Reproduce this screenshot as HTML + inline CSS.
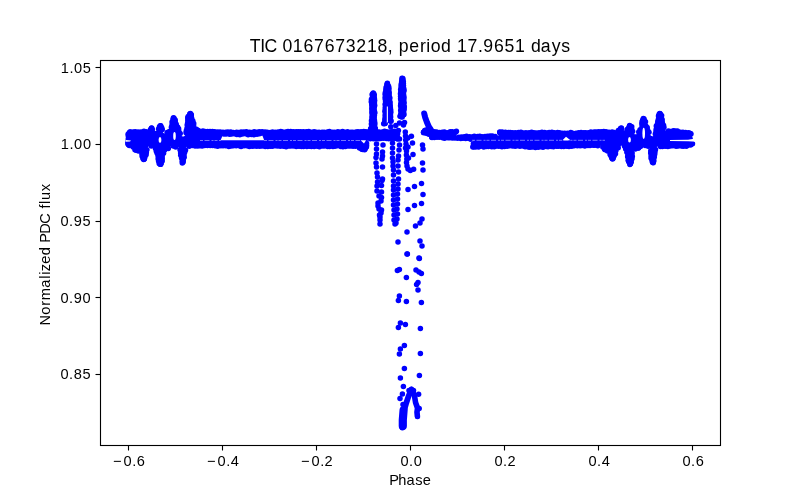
<!DOCTYPE html>
<html><head><meta charset="utf-8"><style>
html,body{margin:0;padding:0;background:#fff;}
svg{display:block;will-change:transform;}
text{font-family:"Liberation Sans",sans-serif;fill:#000;}
</style></head><body>
<svg width="800" height="500" viewBox="0 0 800 500">
<rect width="800" height="500" fill="#fff"/>
<g>
<path fill="#0000ff" fill-rule="nonzero" d="M127.95,134.40 L127.95,143.92 L128.69,145.40 L131.59,146.12 L131.81,146.19 L132.02,146.27 L132.22,146.38 L132.41,146.50 L132.59,146.64 L132.75,146.79 L132.90,146.96 L133.04,147.14 L134.77,149.73 L137.23,151.38 L140.10,152.81 L140.30,152.92 L140.49,153.06 L140.67,153.21 L140.83,153.38 L140.98,153.56 L141.11,153.76 L141.22,153.96 L141.31,154.18 L142.80,158.37 L143.71,159.68 L144.00,159.77 L144.48,159.50 L145.51,157.59 L146.61,153.46 L147.59,148.06 L147.64,147.83 L147.72,147.60 L147.82,147.39 L147.94,147.18 L148.07,146.99 L148.23,146.81 L148.40,146.64 L148.59,146.50 L148.79,146.37 L149.00,146.26 L149.23,146.18 L149.46,146.11 L149.69,146.07 L149.93,146.05 L150.17,146.06 L150.40,146.08 L153.40,146.58 L153.63,146.63 L153.86,146.71 L154.08,146.80 L154.28,146.91 L154.48,147.05 L154.66,147.20 L154.83,147.37 L154.98,147.55 L155.11,147.75 L155.22,147.96 L155.31,148.18 L155.38,148.41 L157.38,156.40 L158.75,161.80 L159.67,164.48 L160.19,164.87 L160.31,164.86 L161.12,163.96 L162.20,160.45 L163.08,154.64 L163.13,154.38 L163.21,154.14 L164.71,150.14 L164.80,149.91 L164.93,149.70 L165.07,149.49 L165.23,149.31 L165.41,149.14 L165.60,148.99 L165.81,148.86 L166.04,148.75 L166.27,148.66 L166.51,148.60 L166.75,148.56 L167.00,148.55 L168.49,148.55 L168.81,147.90 L168.93,147.69 L169.07,147.50 L169.22,147.31 L169.40,147.15 L169.59,147.00 L169.79,146.87 L170.01,146.76 L170.23,146.67 L170.47,146.61 L170.71,146.57 L170.95,146.55 L171.19,146.56 L177.69,147.06 L177.92,147.09 L178.15,147.14 L178.38,147.21 L178.59,147.31 L178.80,147.42 L178.99,147.56 L179.17,147.71 L179.34,147.88 L179.48,148.06 L179.61,148.26 L179.72,148.47 L179.81,148.69 L179.88,148.91 L179.92,149.14 L181.01,156.58 L181.95,161.27 L182.57,162.70 L183.51,161.07 L184.39,157.54 L185.57,148.68 L185.61,148.45 L185.68,148.22 L185.76,148.00 L185.87,147.79 L185.99,147.60 L186.14,147.41 L186.30,147.24 L186.47,147.08 L186.66,146.95 L186.86,146.83 L187.08,146.73 L187.30,146.65 L187.52,146.60 L187.76,146.56 L191.76,146.16 L192.00,146.15 L200.00,146.15 L200.01,146.15 L240.01,146.35 L300.00,146.55 L357.00,146.55 L357.22,146.56 L357.45,146.59 L357.67,146.64 L357.88,146.71 L358.09,146.80 L358.28,146.91 L358.47,147.04 L361.82,149.55 L364.89,149.55 L366.68,147.53 L367.57,141.16 L367.62,140.92 L367.69,140.68 L367.79,140.45 L367.90,140.23 L368.04,140.03 L368.20,139.84 L368.38,139.66 L368.57,139.51 L368.78,139.38 L369.00,139.26 L369.23,139.17 L369.47,139.11 L369.71,139.07 L369.96,139.05 L397.55,138.59 L397.55,131.27 L350.02,131.65 L350.00,131.65 L270.01,131.65 L240.02,131.85 L240.00,131.85 L216.00,131.85 L215.76,131.84 L204.12,130.67 L200.48,131.40 L200.24,131.44 L200.00,131.45 L199.76,131.44 L199.52,131.40 L199.29,131.34 L199.06,131.26 L198.85,131.16 L198.64,131.04 L198.45,130.89 L198.27,130.73 L195.27,127.73 L195.10,127.55 L194.95,127.35 L194.83,127.13 L194.72,126.91 L194.64,126.67 L192.64,119.67 L192.62,119.59 L191.31,114.33 L190.38,113.51 L187.86,116.92 L186.94,125.27 L186.92,125.40 L185.42,134.40 L185.37,134.64 L185.29,134.87 L185.20,135.09 L185.08,135.30 L184.94,135.50 L184.78,135.68 L184.61,135.85 L184.42,136.00 L184.22,136.13 L184.00,136.23 L183.78,136.32 L183.55,136.39 L183.31,136.43 L183.07,136.45 L182.83,136.44 L182.59,136.42 L182.36,136.36 L182.13,136.29 L181.91,136.19 L181.70,136.07 L181.50,135.94 L181.32,135.78 L181.15,135.61 L181.00,135.42 L180.87,135.21 L180.76,135.00 L180.68,134.77 L178.72,128.90 L175.78,122.53 L175.69,122.32 L175.63,122.12 L175.58,121.90 L175.21,119.66 L173.87,118.28 L172.74,119.29 L171.90,123.48 L171.88,123.59 L170.38,129.59 L170.31,129.81 L170.23,130.02 L170.12,130.22 L170.00,130.41 L169.86,130.59 L169.71,130.75 L169.54,130.90 L169.36,131.04 L166.36,133.04 L166.15,133.16 L165.92,133.27 L165.69,133.35 L165.45,133.41 L165.21,133.44 L164.96,133.45 L164.71,133.43 L164.47,133.39 L164.23,133.33 L164.00,133.24 L163.78,133.13 L163.58,132.99 L163.38,132.84 L163.21,132.67 L163.05,132.48 L162.91,132.27 L162.79,132.06 L162.69,131.83 L162.62,131.59 L161.31,126.34 L160.34,125.50 L159.53,126.07 L158.29,129.36 L158.20,129.58 L158.08,129.80 L157.94,130.00 L157.78,130.19 L157.60,130.35 L157.41,130.51 L157.20,130.64 L156.98,130.74 L156.75,130.83 L156.52,130.90 L156.27,130.93 L156.03,130.95 L155.78,130.94 L155.54,130.91 L155.30,130.85 L155.07,130.77 L154.85,130.66 L154.64,130.54 L153.14,129.54 L152.93,129.38 L151.27,128.00 L150.52,128.45 L148.73,130.23 L148.57,130.38 L148.39,130.52 L148.20,130.64 L147.99,130.74 L147.78,130.82 L147.57,130.88 L147.35,130.93 L140.35,131.93 L140.05,131.95 L139.76,131.94 L134.88,131.45 L130.65,131.45 L128.53,132.66 L127.95,134.40Z "/>
<circle cx="128.09" cy="134.13" r="2.75" fill="#0000ff"/>
<circle cx="128.39" cy="136.22" r="2.75" fill="#0000ff"/>
<circle cx="128.28" cy="139.08" r="2.75" fill="#0000ff"/>
<circle cx="127.85" cy="141.81" r="2.75" fill="#0000ff"/>
<circle cx="127.83" cy="143.79" r="2.75" fill="#0000ff"/>
<circle cx="128.51" cy="144.77" r="2.75" fill="#0000ff"/>
<circle cx="129.29" cy="145.55" r="2.75" fill="#0000ff"/>
<circle cx="133.07" cy="146.91" r="2.75" fill="#0000ff"/>
<circle cx="134.97" cy="149.73" r="2.75" fill="#0000ff"/>
<circle cx="136.11" cy="150.13" r="2.75" fill="#0000ff"/>
<circle cx="138.39" cy="151.00" r="2.75" fill="#0000ff"/>
<circle cx="141.89" cy="153.82" r="2.75" fill="#0000ff"/>
<circle cx="142.16" cy="156.24" r="2.75" fill="#0000ff"/>
<circle cx="142.96" cy="158.61" r="2.75" fill="#0000ff"/>
<circle cx="143.61" cy="159.50" r="2.75" fill="#0000ff"/>
<circle cx="144.09" cy="159.33" r="2.75" fill="#0000ff"/>
<circle cx="144.40" cy="158.71" r="2.75" fill="#0000ff"/>
<circle cx="144.86" cy="157.10" r="2.75" fill="#0000ff"/>
<circle cx="146.09" cy="154.79" r="2.75" fill="#0000ff"/>
<circle cx="146.30" cy="152.62" r="2.75" fill="#0000ff"/>
<circle cx="146.89" cy="149.80" r="2.75" fill="#0000ff"/>
<circle cx="151.30" cy="146.06" r="2.75" fill="#0000ff"/>
<circle cx="155.47" cy="148.55" r="2.75" fill="#0000ff"/>
<circle cx="156.36" cy="151.34" r="2.75" fill="#0000ff"/>
<circle cx="157.17" cy="153.33" r="2.75" fill="#0000ff"/>
<circle cx="158.03" cy="155.70" r="2.75" fill="#0000ff"/>
<circle cx="158.16" cy="158.79" r="2.75" fill="#0000ff"/>
<circle cx="158.56" cy="161.07" r="2.75" fill="#0000ff"/>
<circle cx="159.18" cy="163.49" r="2.75" fill="#0000ff"/>
<circle cx="160.16" cy="164.36" r="2.75" fill="#0000ff"/>
<circle cx="160.56" cy="164.35" r="2.75" fill="#0000ff"/>
<circle cx="160.68" cy="164.28" r="2.75" fill="#0000ff"/>
<circle cx="161.18" cy="162.94" r="2.75" fill="#0000ff"/>
<circle cx="162.18" cy="160.90" r="2.75" fill="#0000ff"/>
<circle cx="162.19" cy="158.49" r="2.75" fill="#0000ff"/>
<circle cx="162.21" cy="155.95" r="2.75" fill="#0000ff"/>
<circle cx="163.55" cy="153.16" r="2.75" fill="#0000ff"/>
<circle cx="164.62" cy="150.09" r="2.75" fill="#0000ff"/>
<circle cx="168.26" cy="148.58" r="2.75" fill="#0000ff"/>
<circle cx="167.98" cy="148.00" r="2.75" fill="#0000ff"/>
<circle cx="173.21" cy="146.09" r="2.75" fill="#0000ff"/>
<circle cx="175.70" cy="146.88" r="2.75" fill="#0000ff"/>
<circle cx="180.03" cy="149.85" r="2.75" fill="#0000ff"/>
<circle cx="180.64" cy="152.98" r="2.75" fill="#0000ff"/>
<circle cx="180.74" cy="155.17" r="2.75" fill="#0000ff"/>
<circle cx="181.58" cy="157.99" r="2.75" fill="#0000ff"/>
<circle cx="182.33" cy="160.52" r="2.75" fill="#0000ff"/>
<circle cx="182.41" cy="161.96" r="2.75" fill="#0000ff"/>
<circle cx="182.31" cy="162.88" r="2.75" fill="#0000ff"/>
<circle cx="183.16" cy="162.03" r="2.75" fill="#0000ff"/>
<circle cx="182.68" cy="161.15" r="2.75" fill="#0000ff"/>
<circle cx="183.31" cy="159.66" r="2.75" fill="#0000ff"/>
<circle cx="184.18" cy="157.23" r="2.75" fill="#0000ff"/>
<circle cx="184.00" cy="154.80" r="2.75" fill="#0000ff"/>
<circle cx="184.67" cy="152.35" r="2.75" fill="#0000ff"/>
<circle cx="185.54" cy="149.89" r="2.75" fill="#0000ff"/>
<circle cx="189.25" cy="146.22" r="2.75" fill="#0000ff"/>
<circle cx="192.25" cy="145.45" r="2.75" fill="#0000ff"/>
<circle cx="195.05" cy="146.10" r="2.75" fill="#0000ff"/>
<circle cx="197.63" cy="146.12" r="2.75" fill="#0000ff"/>
<circle cx="199.80" cy="145.76" r="2.75" fill="#0000ff"/>
<circle cx="202.15" cy="145.98" r="2.75" fill="#0000ff"/>
<circle cx="204.71" cy="145.49" r="2.75" fill="#0000ff"/>
<circle cx="207.45" cy="145.58" r="2.75" fill="#0000ff"/>
<circle cx="210.16" cy="145.50" r="2.75" fill="#0000ff"/>
<circle cx="212.46" cy="145.60" r="2.75" fill="#0000ff"/>
<circle cx="215.15" cy="145.80" r="2.75" fill="#0000ff"/>
<circle cx="217.68" cy="146.28" r="2.75" fill="#0000ff"/>
<circle cx="220.81" cy="145.64" r="2.75" fill="#0000ff"/>
<circle cx="223.09" cy="145.83" r="2.75" fill="#0000ff"/>
<circle cx="225.79" cy="145.64" r="2.75" fill="#0000ff"/>
<circle cx="228.82" cy="146.44" r="2.75" fill="#0000ff"/>
<circle cx="231.08" cy="145.99" r="2.75" fill="#0000ff"/>
<circle cx="233.34" cy="145.66" r="2.75" fill="#0000ff"/>
<circle cx="236.17" cy="145.82" r="2.75" fill="#0000ff"/>
<circle cx="239.21" cy="145.74" r="2.75" fill="#0000ff"/>
<circle cx="241.08" cy="146.46" r="2.75" fill="#0000ff"/>
<circle cx="244.13" cy="145.75" r="2.75" fill="#0000ff"/>
<circle cx="246.74" cy="145.65" r="2.75" fill="#0000ff"/>
<circle cx="249.33" cy="146.51" r="2.75" fill="#0000ff"/>
<circle cx="252.23" cy="146.27" r="2.75" fill="#0000ff"/>
<circle cx="254.29" cy="145.98" r="2.75" fill="#0000ff"/>
<circle cx="256.81" cy="146.35" r="2.75" fill="#0000ff"/>
<circle cx="259.74" cy="146.37" r="2.75" fill="#0000ff"/>
<circle cx="262.15" cy="145.88" r="2.75" fill="#0000ff"/>
<circle cx="265.19" cy="146.57" r="2.75" fill="#0000ff"/>
<circle cx="267.82" cy="146.42" r="2.75" fill="#0000ff"/>
<circle cx="270.39" cy="146.37" r="2.75" fill="#0000ff"/>
<circle cx="272.46" cy="146.17" r="2.75" fill="#0000ff"/>
<circle cx="275.18" cy="145.74" r="2.75" fill="#0000ff"/>
<circle cx="277.48" cy="145.98" r="2.75" fill="#0000ff"/>
<circle cx="280.29" cy="146.36" r="2.75" fill="#0000ff"/>
<circle cx="283.52" cy="146.15" r="2.75" fill="#0000ff"/>
<circle cx="286.10" cy="146.64" r="2.75" fill="#0000ff"/>
<circle cx="288.72" cy="146.09" r="2.75" fill="#0000ff"/>
<circle cx="290.66" cy="145.97" r="2.75" fill="#0000ff"/>
<circle cx="293.24" cy="145.96" r="2.75" fill="#0000ff"/>
<circle cx="296.22" cy="146.60" r="2.75" fill="#0000ff"/>
<circle cx="299.02" cy="146.23" r="2.75" fill="#0000ff"/>
<circle cx="301.44" cy="146.52" r="2.75" fill="#0000ff"/>
<circle cx="303.53" cy="146.39" r="2.75" fill="#0000ff"/>
<circle cx="306.87" cy="146.50" r="2.75" fill="#0000ff"/>
<circle cx="309.33" cy="146.23" r="2.75" fill="#0000ff"/>
<circle cx="311.41" cy="146.51" r="2.75" fill="#0000ff"/>
<circle cx="314.15" cy="146.52" r="2.75" fill="#0000ff"/>
<circle cx="317.33" cy="146.16" r="2.75" fill="#0000ff"/>
<circle cx="319.41" cy="146.65" r="2.75" fill="#0000ff"/>
<circle cx="322.30" cy="145.95" r="2.75" fill="#0000ff"/>
<circle cx="324.37" cy="145.94" r="2.75" fill="#0000ff"/>
<circle cx="327.67" cy="146.53" r="2.75" fill="#0000ff"/>
<circle cx="329.58" cy="146.54" r="2.75" fill="#0000ff"/>
<circle cx="332.93" cy="146.39" r="2.75" fill="#0000ff"/>
<circle cx="334.97" cy="146.29" r="2.75" fill="#0000ff"/>
<circle cx="337.37" cy="145.81" r="2.75" fill="#0000ff"/>
<circle cx="340.73" cy="146.38" r="2.75" fill="#0000ff"/>
<circle cx="342.93" cy="146.64" r="2.75" fill="#0000ff"/>
<circle cx="345.44" cy="146.58" r="2.75" fill="#0000ff"/>
<circle cx="348.40" cy="145.99" r="2.75" fill="#0000ff"/>
<circle cx="350.48" cy="146.06" r="2.75" fill="#0000ff"/>
<circle cx="353.07" cy="146.33" r="2.75" fill="#0000ff"/>
<circle cx="355.69" cy="146.18" r="2.75" fill="#0000ff"/>
<circle cx="359.52" cy="148.07" r="2.75" fill="#0000ff"/>
<circle cx="361.79" cy="149.21" r="2.75" fill="#0000ff"/>
<circle cx="362.78" cy="149.61" r="2.75" fill="#0000ff"/>
<circle cx="364.69" cy="149.63" r="2.75" fill="#0000ff"/>
<circle cx="365.20" cy="148.78" r="2.75" fill="#0000ff"/>
<circle cx="366.41" cy="146.97" r="2.75" fill="#0000ff"/>
<circle cx="366.58" cy="145.39" r="2.75" fill="#0000ff"/>
<circle cx="366.55" cy="143.37" r="2.75" fill="#0000ff"/>
<circle cx="370.26" cy="138.72" r="2.75" fill="#0000ff"/>
<circle cx="373.36" cy="138.75" r="2.75" fill="#0000ff"/>
<circle cx="375.60" cy="138.67" r="2.75" fill="#0000ff"/>
<circle cx="378.40" cy="138.87" r="2.75" fill="#0000ff"/>
<circle cx="380.60" cy="138.62" r="2.75" fill="#0000ff"/>
<circle cx="383.33" cy="138.32" r="2.75" fill="#0000ff"/>
<circle cx="386.40" cy="138.49" r="2.75" fill="#0000ff"/>
<circle cx="388.81" cy="138.67" r="2.75" fill="#0000ff"/>
<circle cx="391.73" cy="138.34" r="2.75" fill="#0000ff"/>
<circle cx="394.05" cy="138.36" r="2.75" fill="#0000ff"/>
<circle cx="396.56" cy="138.48" r="2.75" fill="#0000ff"/>
<circle cx="397.55" cy="138.81" r="2.75" fill="#0000ff"/>
<circle cx="397.37" cy="138.74" r="2.75" fill="#0000ff"/>
<circle cx="397.43" cy="136.94" r="2.75" fill="#0000ff"/>
<circle cx="397.65" cy="133.78" r="2.75" fill="#0000ff"/>
<circle cx="397.30" cy="131.97" r="2.75" fill="#0000ff"/>
<circle cx="398.37" cy="130.43" r="2.75" fill="#0000ff"/>
<circle cx="396.91" cy="131.52" r="2.75" fill="#0000ff"/>
<circle cx="394.44" cy="131.36" r="2.75" fill="#0000ff"/>
<circle cx="391.84" cy="131.76" r="2.75" fill="#0000ff"/>
<circle cx="389.88" cy="131.99" r="2.75" fill="#0000ff"/>
<circle cx="386.71" cy="131.85" r="2.75" fill="#0000ff"/>
<circle cx="384.57" cy="131.35" r="2.75" fill="#0000ff"/>
<circle cx="382.17" cy="132.12" r="2.75" fill="#0000ff"/>
<circle cx="378.97" cy="132.12" r="2.75" fill="#0000ff"/>
<circle cx="376.53" cy="131.73" r="2.75" fill="#0000ff"/>
<circle cx="374.46" cy="132.06" r="2.75" fill="#0000ff"/>
<circle cx="371.12" cy="131.72" r="2.75" fill="#0000ff"/>
<circle cx="368.83" cy="131.65" r="2.75" fill="#0000ff"/>
<circle cx="365.95" cy="131.66" r="2.75" fill="#0000ff"/>
<circle cx="363.82" cy="131.41" r="2.75" fill="#0000ff"/>
<circle cx="361.07" cy="131.81" r="2.75" fill="#0000ff"/>
<circle cx="357.99" cy="131.73" r="2.75" fill="#0000ff"/>
<circle cx="355.93" cy="131.91" r="2.75" fill="#0000ff"/>
<circle cx="352.83" cy="132.36" r="2.75" fill="#0000ff"/>
<circle cx="350.88" cy="132.37" r="2.75" fill="#0000ff"/>
<circle cx="347.64" cy="131.74" r="2.75" fill="#0000ff"/>
<circle cx="344.98" cy="132.20" r="2.75" fill="#0000ff"/>
<circle cx="342.59" cy="131.62" r="2.75" fill="#0000ff"/>
<circle cx="340.13" cy="132.32" r="2.75" fill="#0000ff"/>
<circle cx="337.88" cy="131.73" r="2.75" fill="#0000ff"/>
<circle cx="334.68" cy="132.33" r="2.75" fill="#0000ff"/>
<circle cx="332.46" cy="132.13" r="2.75" fill="#0000ff"/>
<circle cx="329.43" cy="131.55" r="2.75" fill="#0000ff"/>
<circle cx="327.37" cy="131.88" r="2.75" fill="#0000ff"/>
<circle cx="324.21" cy="132.34" r="2.75" fill="#0000ff"/>
<circle cx="322.12" cy="132.22" r="2.75" fill="#0000ff"/>
<circle cx="319.02" cy="132.27" r="2.75" fill="#0000ff"/>
<circle cx="316.41" cy="132.28" r="2.75" fill="#0000ff"/>
<circle cx="314.15" cy="131.81" r="2.75" fill="#0000ff"/>
<circle cx="311.64" cy="132.33" r="2.75" fill="#0000ff"/>
<circle cx="308.79" cy="131.62" r="2.75" fill="#0000ff"/>
<circle cx="306.42" cy="131.71" r="2.75" fill="#0000ff"/>
<circle cx="303.44" cy="131.65" r="2.75" fill="#0000ff"/>
<circle cx="300.79" cy="131.68" r="2.75" fill="#0000ff"/>
<circle cx="298.43" cy="131.77" r="2.75" fill="#0000ff"/>
<circle cx="296.23" cy="131.76" r="2.75" fill="#0000ff"/>
<circle cx="293.39" cy="131.66" r="2.75" fill="#0000ff"/>
<circle cx="290.66" cy="131.52" r="2.75" fill="#0000ff"/>
<circle cx="287.97" cy="131.51" r="2.75" fill="#0000ff"/>
<circle cx="285.80" cy="132.00" r="2.75" fill="#0000ff"/>
<circle cx="282.71" cy="131.93" r="2.75" fill="#0000ff"/>
<circle cx="280.78" cy="131.60" r="2.75" fill="#0000ff"/>
<circle cx="278.08" cy="131.89" r="2.75" fill="#0000ff"/>
<circle cx="275.19" cy="132.25" r="2.75" fill="#0000ff"/>
<circle cx="272.50" cy="131.96" r="2.75" fill="#0000ff"/>
<circle cx="270.18" cy="132.38" r="2.75" fill="#0000ff"/>
<circle cx="267.27" cy="132.27" r="2.75" fill="#0000ff"/>
<circle cx="265.00" cy="132.11" r="2.75" fill="#0000ff"/>
<circle cx="262.12" cy="131.86" r="2.75" fill="#0000ff"/>
<circle cx="259.21" cy="131.69" r="2.75" fill="#0000ff"/>
<circle cx="256.62" cy="132.25" r="2.75" fill="#0000ff"/>
<circle cx="254.19" cy="131.75" r="2.75" fill="#0000ff"/>
<circle cx="251.44" cy="132.38" r="2.75" fill="#0000ff"/>
<circle cx="249.54" cy="132.24" r="2.75" fill="#0000ff"/>
<circle cx="246.41" cy="131.87" r="2.75" fill="#0000ff"/>
<circle cx="243.82" cy="132.09" r="2.75" fill="#0000ff"/>
<circle cx="241.10" cy="132.09" r="2.75" fill="#0000ff"/>
<circle cx="238.58" cy="132.57" r="2.75" fill="#0000ff"/>
<circle cx="236.62" cy="132.19" r="2.75" fill="#0000ff"/>
<circle cx="233.36" cy="132.57" r="2.75" fill="#0000ff"/>
<circle cx="230.82" cy="132.02" r="2.75" fill="#0000ff"/>
<circle cx="227.94" cy="132.04" r="2.75" fill="#0000ff"/>
<circle cx="225.77" cy="132.15" r="2.75" fill="#0000ff"/>
<circle cx="222.92" cy="132.15" r="2.75" fill="#0000ff"/>
<circle cx="220.14" cy="131.94" r="2.75" fill="#0000ff"/>
<circle cx="217.62" cy="132.06" r="2.75" fill="#0000ff"/>
<circle cx="214.71" cy="131.65" r="2.75" fill="#0000ff"/>
<circle cx="212.36" cy="131.58" r="2.75" fill="#0000ff"/>
<circle cx="210.02" cy="131.58" r="2.75" fill="#0000ff"/>
<circle cx="207.58" cy="131.44" r="2.75" fill="#0000ff"/>
<circle cx="204.96" cy="131.38" r="2.75" fill="#0000ff"/>
<circle cx="202.92" cy="131.04" r="2.75" fill="#0000ff"/>
<circle cx="198.44" cy="130.58" r="2.75" fill="#0000ff"/>
<circle cx="196.37" cy="129.18" r="2.75" fill="#0000ff"/>
<circle cx="193.66" cy="126.07" r="2.75" fill="#0000ff"/>
<circle cx="193.71" cy="123.38" r="2.75" fill="#0000ff"/>
<circle cx="192.85" cy="121.05" r="2.75" fill="#0000ff"/>
<circle cx="191.63" cy="118.18" r="2.75" fill="#0000ff"/>
<circle cx="191.33" cy="115.94" r="2.75" fill="#0000ff"/>
<circle cx="191.31" cy="114.79" r="2.75" fill="#0000ff"/>
<circle cx="190.59" cy="113.93" r="2.75" fill="#0000ff"/>
<circle cx="190.40" cy="113.56" r="2.75" fill="#0000ff"/>
<circle cx="189.78" cy="114.08" r="2.75" fill="#0000ff"/>
<circle cx="188.15" cy="116.47" r="2.75" fill="#0000ff"/>
<circle cx="187.73" cy="117.91" r="2.75" fill="#0000ff"/>
<circle cx="187.85" cy="120.31" r="2.75" fill="#0000ff"/>
<circle cx="187.63" cy="122.94" r="2.75" fill="#0000ff"/>
<circle cx="187.19" cy="125.06" r="2.75" fill="#0000ff"/>
<circle cx="187.04" cy="128.30" r="2.75" fill="#0000ff"/>
<circle cx="186.35" cy="130.67" r="2.75" fill="#0000ff"/>
<circle cx="186.06" cy="132.81" r="2.75" fill="#0000ff"/>
<circle cx="180.18" cy="133.38" r="2.75" fill="#0000ff"/>
<circle cx="178.76" cy="130.93" r="2.75" fill="#0000ff"/>
<circle cx="178.62" cy="128.70" r="2.75" fill="#0000ff"/>
<circle cx="177.54" cy="127.03" r="2.75" fill="#0000ff"/>
<circle cx="176.23" cy="124.13" r="2.75" fill="#0000ff"/>
<circle cx="175.13" cy="121.28" r="2.75" fill="#0000ff"/>
<circle cx="175.17" cy="119.91" r="2.75" fill="#0000ff"/>
<circle cx="173.99" cy="118.32" r="2.75" fill="#0000ff"/>
<circle cx="173.48" cy="117.81" r="2.75" fill="#0000ff"/>
<circle cx="173.65" cy="118.90" r="2.75" fill="#0000ff"/>
<circle cx="173.04" cy="119.19" r="2.75" fill="#0000ff"/>
<circle cx="172.07" cy="121.97" r="2.75" fill="#0000ff"/>
<circle cx="172.03" cy="125.02" r="2.75" fill="#0000ff"/>
<circle cx="171.40" cy="127.18" r="2.75" fill="#0000ff"/>
<circle cx="169.35" cy="131.38" r="2.75" fill="#0000ff"/>
<circle cx="167.14" cy="132.52" r="2.75" fill="#0000ff"/>
<circle cx="162.24" cy="129.62" r="2.75" fill="#0000ff"/>
<circle cx="161.69" cy="127.77" r="2.75" fill="#0000ff"/>
<circle cx="160.61" cy="126.47" r="2.75" fill="#0000ff"/>
<circle cx="160.69" cy="125.87" r="2.75" fill="#0000ff"/>
<circle cx="160.27" cy="125.67" r="2.75" fill="#0000ff"/>
<circle cx="159.46" cy="126.81" r="2.75" fill="#0000ff"/>
<circle cx="158.55" cy="128.92" r="2.75" fill="#0000ff"/>
<circle cx="152.31" cy="129.55" r="2.75" fill="#0000ff"/>
<circle cx="151.65" cy="128.03" r="2.75" fill="#0000ff"/>
<circle cx="151.53" cy="128.37" r="2.75" fill="#0000ff"/>
<circle cx="150.50" cy="129.42" r="2.75" fill="#0000ff"/>
<circle cx="146.27" cy="131.71" r="2.75" fill="#0000ff"/>
<circle cx="143.92" cy="131.29" r="2.75" fill="#0000ff"/>
<circle cx="140.92" cy="132.08" r="2.75" fill="#0000ff"/>
<circle cx="138.07" cy="131.90" r="2.75" fill="#0000ff"/>
<circle cx="135.21" cy="131.68" r="2.75" fill="#0000ff"/>
<circle cx="133.04" cy="132.06" r="2.75" fill="#0000ff"/>
<circle cx="130.28" cy="131.98" r="2.75" fill="#0000ff"/>
<circle cx="129.94" cy="132.03" r="2.75" fill="#0000ff"/>
<circle cx="129.16" cy="133.06" r="2.75" fill="#0000ff"/>
<ellipse cx="160.0" cy="140.0" rx="1.4" ry="3.0" fill="#fff"/>
<ellipse cx="174.5" cy="136.0" rx="1.3" ry="4.0" fill="#fff"/>
<polygon fill="#fff" points="125.5,140.0 131.0,140.6 130.0,141.6 125.5,141.8"/>
<polygon fill="#fff" points="220.6,140.2 222.5,135.8 262.5,135.8 264.2,140.2"/>
<circle cx="223.90" cy="133.95" r="2.75" fill="#0000ff"/>
<circle cx="226.12" cy="134.07" r="2.75" fill="#0000ff"/>
<circle cx="229.50" cy="134.31" r="2.75" fill="#0000ff"/>
<circle cx="231.61" cy="134.11" r="2.75" fill="#0000ff"/>
<circle cx="234.28" cy="133.66" r="2.75" fill="#0000ff"/>
<circle cx="236.85" cy="134.60" r="2.75" fill="#0000ff"/>
<circle cx="239.79" cy="134.72" r="2.75" fill="#0000ff"/>
<circle cx="242.50" cy="133.92" r="2.75" fill="#0000ff"/>
<circle cx="245.51" cy="133.83" r="2.75" fill="#0000ff"/>
<circle cx="248.12" cy="134.75" r="2.75" fill="#0000ff"/>
<circle cx="251.38" cy="134.57" r="2.75" fill="#0000ff"/>
<circle cx="253.88" cy="134.70" r="2.75" fill="#0000ff"/>
<circle cx="256.94" cy="134.26" r="2.75" fill="#0000ff"/>
<circle cx="259.47" cy="133.66" r="2.75" fill="#0000ff"/>
<polygon fill="#fff" points="360.6,140.2 366.0,140.2 364.0,143.6"/>
<line x1="200.0" y1="140.5" x2="221.0" y2="140.5" stroke="#fff" stroke-opacity="0.45" stroke-width="1" stroke-dasharray="3 1.5 5 2 2 1"/>
<line x1="264.0" y1="140.5" x2="360.0" y2="140.5" stroke="#fff" stroke-opacity="0.45" stroke-width="1" stroke-dasharray="3 1.5 5 2 2 1"/>
<path fill="#0000ff" fill-rule="nonzero" d="M423.45,131.86 L423.45,132.38 L428.97,134.75 L429.17,134.85 L429.37,134.97 L429.56,135.11 L429.73,135.27 L432.05,137.59 L471.09,139.05 L471.33,139.07 L471.56,139.11 L471.78,139.18 L472.00,139.26 L472.21,139.37 L472.41,139.50 L472.59,139.64 L472.76,139.80 L472.92,139.98 L473.06,140.17 L473.17,140.37 L473.27,140.58 L473.35,140.81 L473.41,141.03 L473.44,141.27 L473.45,141.50 L473.45,147.01 L519.97,146.35 L520.29,146.37 L530.11,147.55 L569.93,146.35 L569.95,146.35 L599.95,145.75 L600.19,145.76 L600.42,145.79 L600.66,145.84 L600.88,145.91 L601.10,146.01 L601.31,146.13 L601.50,146.26 L601.68,146.42 L601.85,146.59 L605.16,150.39 L608.27,151.43 L608.50,151.51 L608.71,151.62 L608.91,151.74 L609.09,151.89 L609.27,152.05 L609.42,152.23 L609.56,152.42 L609.68,152.63 L609.78,152.84 L609.85,153.07 L610.61,155.67 L611.66,158.10 L612.57,159.00 L612.74,159.01 L613.57,158.39 L614.72,156.09 L616.41,150.54 L616.49,150.31 L616.59,150.09 L616.71,149.89 L616.86,149.70 L617.02,149.52 L620.17,146.37 L620.35,146.20 L620.54,146.06 L620.75,145.94 L620.97,145.83 L621.20,145.75 L621.44,145.69 L621.68,145.66 L621.92,145.65 L622.16,145.66 L622.40,145.70 L622.64,145.76 L622.86,145.85 L623.08,145.95 L623.29,146.08 L623.48,146.23 L623.66,146.39 L623.82,146.58 L626.32,149.73 L626.47,149.94 L626.60,150.17 L626.70,150.41 L626.78,150.66 L626.83,150.91 L627.62,156.59 L628.64,161.68 L629.86,164.06 L630.11,164.21 L630.27,164.13 L631.46,162.14 L632.38,156.63 L633.17,150.91 L633.22,150.67 L633.29,150.44 L633.38,150.22 L633.49,150.00 L633.62,149.80 L633.78,149.61 L633.95,149.44 L634.13,149.29 L634.34,149.15 L634.55,149.04 L634.77,148.94 L635.00,148.87 L635.24,148.83 L638.82,148.30 L641.24,145.80 L641.41,145.63 L641.60,145.49 L641.81,145.36 L642.02,145.25 L642.24,145.17 L642.47,145.11 L642.71,145.07 L642.95,145.05 L643.19,145.06 L643.42,145.09 L643.66,145.14 L648.16,146.39 L648.38,146.46 L648.60,146.56 L648.81,146.68 L649.01,146.82 L649.19,146.97 L649.35,147.15 L649.50,147.33 L649.63,147.54 L649.74,147.75 L649.82,147.97 L649.89,148.20 L649.93,148.44 L650.73,154.69 L651.39,159.85 L652.52,162.49 L652.78,162.71 L653.68,161.12 L654.88,155.60 L655.67,148.72 L655.70,148.49 L655.77,148.26 L655.85,148.03 L655.95,147.82 L656.08,147.62 L656.22,147.43 L656.38,147.25 L656.56,147.09 L656.75,146.95 L656.96,146.83 L657.17,146.73 L657.40,146.65 L657.63,146.60 L657.86,146.56 L658.10,146.55 L668.72,146.55 L687.07,146.16 L692.33,144.37 L692.41,144.05 L691.56,142.35 L691.45,142.10 L691.37,141.84 L690.12,136.84 L690.07,136.60 L690.05,136.35 L690.05,136.10 L690.08,135.85 L690.14,135.61 L690.21,135.37 L690.85,133.72 L689.96,132.94 L680.71,131.83 L680.41,131.78 L674.84,130.38 L667.78,131.18 L667.54,131.20 L667.30,131.19 L667.06,131.16 L666.83,131.11 L666.60,131.03 L666.38,130.93 L666.17,130.81 L665.98,130.67 L665.80,130.51 L665.63,130.34 L665.49,130.15 L665.36,129.94 L665.25,129.73 L665.17,129.50 L662.67,121.75 L662.59,121.46 L661.46,115.49 L659.71,113.43 L659.17,113.88 L657.39,120.54 L654.91,134.19 L654.86,134.42 L654.78,134.65 L654.68,134.87 L654.56,135.07 L654.42,135.27 L654.27,135.45 L654.09,135.61 L653.90,135.76 L653.70,135.89 L653.49,135.99 L653.26,136.08 L653.03,136.14 L652.80,136.18 L652.56,136.20 L652.32,136.19 L652.08,136.16 L651.85,136.11 L651.62,136.04 L651.40,135.94 L651.19,135.82 L651.00,135.69 L650.82,135.53 L650.65,135.36 L650.50,135.17 L650.37,134.97 L650.27,134.76 L645.77,124.76 L645.67,124.52 L645.61,124.28 L645.57,124.03 L645.15,120.41 L643.63,118.61 L642.31,119.91 L641.23,127.83 L641.18,128.07 L641.12,128.30 L641.03,128.53 L640.91,128.74 L640.78,128.94 L637.58,133.34 L637.43,133.53 L637.27,133.70 L637.08,133.85 L636.89,133.98 L636.68,134.10 L636.46,134.19 L636.23,134.27 L636.00,134.32 L635.77,134.34 L635.53,134.35 L635.29,134.33 L635.06,134.29 L634.83,134.22 L634.61,134.14 L634.39,134.03 L634.19,133.90 L634.00,133.76 L633.83,133.60 L633.67,133.42 L633.54,133.22 L633.42,133.02 L633.32,132.80 L633.24,132.57 L631.65,126.99 L630.02,125.62 L628.85,126.63 L627.04,129.36 L626.90,129.55 L626.74,129.73 L626.56,129.89 L626.37,130.03 L626.16,130.16 L625.94,130.26 L625.72,130.34 L625.49,130.40 L625.25,130.44 L625.01,130.45 L624.77,130.44 L624.53,130.41 L624.30,130.35 L624.07,130.27 L623.86,130.17 L623.65,130.04 L623.46,129.90 L621.25,128.11 L619.48,129.45 L619.31,129.57 L616.31,131.47 L616.11,131.58 L615.90,131.68 L615.68,131.75 L615.46,131.81 L615.23,131.84 L615.00,131.85 L607.50,131.85 L607.29,131.84 L599.98,131.21 L585.17,132.24 L585.07,132.25 L570.07,132.65 L569.98,132.65 L499.91,131.97 L499.38,134.09 L499.31,134.33 L499.21,134.56 L499.09,134.77 L498.95,134.98 L498.80,135.17 L498.62,135.34 L498.43,135.49 L498.22,135.62 L498.00,135.74 L497.77,135.83 L497.53,135.89 L497.29,135.93 L497.05,135.95 L470.05,136.45 L470.00,136.45 L458.50,136.45 L458.26,136.44 L458.03,136.40 L457.79,136.35 L457.57,136.27 L457.35,136.17 L457.15,136.04 L456.96,135.90 L456.78,135.74 L456.62,135.57 L456.47,135.38 L456.35,135.17 L456.25,134.96 L456.16,134.74 L456.10,134.51 L456.06,134.27 L455.81,131.95 L430.00,131.95 L429.77,131.94 L429.55,131.91 L429.32,131.86 L429.11,131.78 L428.90,131.69 L428.70,131.58 L425.87,129.81 L424.58,130.45 L423.45,131.86Z "/>
<circle cx="423.55" cy="132.14" r="2.75" fill="#0000ff"/>
<circle cx="423.58" cy="132.15" r="2.75" fill="#0000ff"/>
<circle cx="423.70" cy="132.72" r="2.75" fill="#0000ff"/>
<circle cx="426.17" cy="133.34" r="2.75" fill="#0000ff"/>
<circle cx="428.75" cy="134.21" r="2.75" fill="#0000ff"/>
<circle cx="431.85" cy="137.18" r="2.75" fill="#0000ff"/>
<circle cx="431.97" cy="137.43" r="2.75" fill="#0000ff"/>
<circle cx="434.28" cy="137.43" r="2.75" fill="#0000ff"/>
<circle cx="436.96" cy="137.18" r="2.75" fill="#0000ff"/>
<circle cx="439.35" cy="137.31" r="2.75" fill="#0000ff"/>
<circle cx="442.62" cy="137.67" r="2.75" fill="#0000ff"/>
<circle cx="444.61" cy="138.13" r="2.75" fill="#0000ff"/>
<circle cx="447.91" cy="137.82" r="2.75" fill="#0000ff"/>
<circle cx="449.74" cy="137.69" r="2.75" fill="#0000ff"/>
<circle cx="452.29" cy="137.92" r="2.75" fill="#0000ff"/>
<circle cx="454.89" cy="137.92" r="2.75" fill="#0000ff"/>
<circle cx="457.64" cy="138.32" r="2.75" fill="#0000ff"/>
<circle cx="460.81" cy="138.58" r="2.75" fill="#0000ff"/>
<circle cx="462.98" cy="138.37" r="2.75" fill="#0000ff"/>
<circle cx="465.68" cy="138.44" r="2.75" fill="#0000ff"/>
<circle cx="468.12" cy="138.25" r="2.75" fill="#0000ff"/>
<circle cx="470.66" cy="139.16" r="2.75" fill="#0000ff"/>
<circle cx="473.41" cy="143.86" r="2.75" fill="#0000ff"/>
<circle cx="473.87" cy="146.79" r="2.75" fill="#0000ff"/>
<circle cx="472.83" cy="147.07" r="2.75" fill="#0000ff"/>
<circle cx="473.52" cy="146.62" r="2.75" fill="#0000ff"/>
<circle cx="475.68" cy="147.09" r="2.75" fill="#0000ff"/>
<circle cx="478.65" cy="146.98" r="2.75" fill="#0000ff"/>
<circle cx="480.50" cy="146.19" r="2.75" fill="#0000ff"/>
<circle cx="483.72" cy="146.93" r="2.75" fill="#0000ff"/>
<circle cx="486.11" cy="146.61" r="2.75" fill="#0000ff"/>
<circle cx="488.29" cy="146.40" r="2.75" fill="#0000ff"/>
<circle cx="491.73" cy="146.75" r="2.75" fill="#0000ff"/>
<circle cx="494.26" cy="146.85" r="2.75" fill="#0000ff"/>
<circle cx="496.32" cy="146.03" r="2.75" fill="#0000ff"/>
<circle cx="498.84" cy="146.37" r="2.75" fill="#0000ff"/>
<circle cx="501.91" cy="146.71" r="2.75" fill="#0000ff"/>
<circle cx="504.55" cy="146.41" r="2.75" fill="#0000ff"/>
<circle cx="507.19" cy="146.20" r="2.75" fill="#0000ff"/>
<circle cx="509.60" cy="145.78" r="2.75" fill="#0000ff"/>
<circle cx="512.41" cy="145.92" r="2.75" fill="#0000ff"/>
<circle cx="515.14" cy="146.26" r="2.75" fill="#0000ff"/>
<circle cx="517.18" cy="145.75" r="2.75" fill="#0000ff"/>
<circle cx="519.92" cy="146.18" r="2.75" fill="#0000ff"/>
<circle cx="523.09" cy="146.03" r="2.75" fill="#0000ff"/>
<circle cx="525.11" cy="146.71" r="2.75" fill="#0000ff"/>
<circle cx="528.16" cy="146.90" r="2.75" fill="#0000ff"/>
<circle cx="530.01" cy="147.33" r="2.75" fill="#0000ff"/>
<circle cx="532.42" cy="146.98" r="2.75" fill="#0000ff"/>
<circle cx="535.42" cy="147.50" r="2.75" fill="#0000ff"/>
<circle cx="538.19" cy="147.35" r="2.75" fill="#0000ff"/>
<circle cx="540.64" cy="146.69" r="2.75" fill="#0000ff"/>
<circle cx="543.03" cy="147.27" r="2.75" fill="#0000ff"/>
<circle cx="546.05" cy="146.60" r="2.75" fill="#0000ff"/>
<circle cx="548.03" cy="146.69" r="2.75" fill="#0000ff"/>
<circle cx="551.22" cy="146.54" r="2.75" fill="#0000ff"/>
<circle cx="553.45" cy="146.69" r="2.75" fill="#0000ff"/>
<circle cx="556.65" cy="146.21" r="2.75" fill="#0000ff"/>
<circle cx="558.45" cy="146.24" r="2.75" fill="#0000ff"/>
<circle cx="561.40" cy="146.47" r="2.75" fill="#0000ff"/>
<circle cx="563.80" cy="146.49" r="2.75" fill="#0000ff"/>
<circle cx="566.89" cy="146.15" r="2.75" fill="#0000ff"/>
<circle cx="569.01" cy="146.49" r="2.75" fill="#0000ff"/>
<circle cx="571.73" cy="146.30" r="2.75" fill="#0000ff"/>
<circle cx="574.26" cy="145.71" r="2.75" fill="#0000ff"/>
<circle cx="577.34" cy="145.72" r="2.75" fill="#0000ff"/>
<circle cx="580.11" cy="145.85" r="2.75" fill="#0000ff"/>
<circle cx="582.03" cy="145.55" r="2.75" fill="#0000ff"/>
<circle cx="584.84" cy="145.90" r="2.75" fill="#0000ff"/>
<circle cx="587.92" cy="145.38" r="2.75" fill="#0000ff"/>
<circle cx="590.02" cy="145.39" r="2.75" fill="#0000ff"/>
<circle cx="593.14" cy="145.27" r="2.75" fill="#0000ff"/>
<circle cx="594.91" cy="145.15" r="2.75" fill="#0000ff"/>
<circle cx="597.82" cy="145.85" r="2.75" fill="#0000ff"/>
<circle cx="602.80" cy="147.04" r="2.75" fill="#0000ff"/>
<circle cx="604.61" cy="149.18" r="2.75" fill="#0000ff"/>
<circle cx="605.18" cy="149.84" r="2.75" fill="#0000ff"/>
<circle cx="607.55" cy="150.96" r="2.75" fill="#0000ff"/>
<circle cx="610.09" cy="154.40" r="2.75" fill="#0000ff"/>
<circle cx="611.14" cy="156.27" r="2.75" fill="#0000ff"/>
<circle cx="611.76" cy="157.63" r="2.75" fill="#0000ff"/>
<circle cx="612.22" cy="158.49" r="2.75" fill="#0000ff"/>
<circle cx="612.54" cy="159.09" r="2.75" fill="#0000ff"/>
<circle cx="613.15" cy="158.28" r="2.75" fill="#0000ff"/>
<circle cx="614.18" cy="155.82" r="2.75" fill="#0000ff"/>
<circle cx="615.49" cy="153.75" r="2.75" fill="#0000ff"/>
<circle cx="615.90" cy="150.56" r="2.75" fill="#0000ff"/>
<circle cx="618.24" cy="147.74" r="2.75" fill="#0000ff"/>
<circle cx="624.56" cy="146.27" r="2.75" fill="#0000ff"/>
<circle cx="625.68" cy="148.95" r="2.75" fill="#0000ff"/>
<circle cx="626.89" cy="152.17" r="2.75" fill="#0000ff"/>
<circle cx="627.95" cy="155.06" r="2.75" fill="#0000ff"/>
<circle cx="627.64" cy="156.81" r="2.75" fill="#0000ff"/>
<circle cx="628.17" cy="160.16" r="2.75" fill="#0000ff"/>
<circle cx="628.70" cy="161.81" r="2.75" fill="#0000ff"/>
<circle cx="630.44" cy="163.70" r="2.75" fill="#0000ff"/>
<circle cx="629.85" cy="164.46" r="2.75" fill="#0000ff"/>
<circle cx="630.19" cy="163.63" r="2.75" fill="#0000ff"/>
<circle cx="631.13" cy="162.27" r="2.75" fill="#0000ff"/>
<circle cx="631.15" cy="160.51" r="2.75" fill="#0000ff"/>
<circle cx="632.01" cy="158.76" r="2.75" fill="#0000ff"/>
<circle cx="632.30" cy="156.29" r="2.75" fill="#0000ff"/>
<circle cx="632.11" cy="153.08" r="2.75" fill="#0000ff"/>
<circle cx="635.31" cy="148.92" r="2.75" fill="#0000ff"/>
<circle cx="638.31" cy="148.03" r="2.75" fill="#0000ff"/>
<circle cx="638.45" cy="147.95" r="2.75" fill="#0000ff"/>
<circle cx="640.45" cy="146.56" r="2.75" fill="#0000ff"/>
<circle cx="645.17" cy="145.60" r="2.75" fill="#0000ff"/>
<circle cx="648.17" cy="146.31" r="2.75" fill="#0000ff"/>
<circle cx="650.77" cy="150.79" r="2.75" fill="#0000ff"/>
<circle cx="650.70" cy="153.12" r="2.75" fill="#0000ff"/>
<circle cx="651.06" cy="156.12" r="2.75" fill="#0000ff"/>
<circle cx="651.13" cy="158.17" r="2.75" fill="#0000ff"/>
<circle cx="652.10" cy="160.00" r="2.75" fill="#0000ff"/>
<circle cx="652.33" cy="161.79" r="2.75" fill="#0000ff"/>
<circle cx="652.69" cy="162.58" r="2.75" fill="#0000ff"/>
<circle cx="653.30" cy="162.74" r="2.75" fill="#0000ff"/>
<circle cx="653.84" cy="160.80" r="2.75" fill="#0000ff"/>
<circle cx="653.41" cy="158.88" r="2.75" fill="#0000ff"/>
<circle cx="654.33" cy="156.88" r="2.75" fill="#0000ff"/>
<circle cx="654.67" cy="154.16" r="2.75" fill="#0000ff"/>
<circle cx="654.94" cy="151.92" r="2.75" fill="#0000ff"/>
<circle cx="655.46" cy="149.45" r="2.75" fill="#0000ff"/>
<circle cx="660.47" cy="146.40" r="2.75" fill="#0000ff"/>
<circle cx="662.42" cy="146.56" r="2.75" fill="#0000ff"/>
<circle cx="665.17" cy="146.31" r="2.75" fill="#0000ff"/>
<circle cx="667.85" cy="146.46" r="2.75" fill="#0000ff"/>
<circle cx="670.23" cy="145.98" r="2.75" fill="#0000ff"/>
<circle cx="672.88" cy="145.84" r="2.75" fill="#0000ff"/>
<circle cx="676.05" cy="146.17" r="2.75" fill="#0000ff"/>
<circle cx="678.15" cy="145.95" r="2.75" fill="#0000ff"/>
<circle cx="681.35" cy="146.00" r="2.75" fill="#0000ff"/>
<circle cx="683.27" cy="146.21" r="2.75" fill="#0000ff"/>
<circle cx="686.25" cy="146.32" r="2.75" fill="#0000ff"/>
<circle cx="687.46" cy="145.56" r="2.75" fill="#0000ff"/>
<circle cx="690.57" cy="145.05" r="2.75" fill="#0000ff"/>
<circle cx="692.45" cy="143.72" r="2.75" fill="#0000ff"/>
<circle cx="691.91" cy="143.74" r="2.75" fill="#0000ff"/>
<circle cx="691.45" cy="143.77" r="2.75" fill="#0000ff"/>
<circle cx="690.76" cy="140.72" r="2.75" fill="#0000ff"/>
<circle cx="689.94" cy="138.14" r="2.75" fill="#0000ff"/>
<circle cx="690.45" cy="133.59" r="2.75" fill="#0000ff"/>
<circle cx="690.94" cy="134.11" r="2.75" fill="#0000ff"/>
<circle cx="689.48" cy="133.32" r="2.75" fill="#0000ff"/>
<circle cx="688.44" cy="132.80" r="2.75" fill="#0000ff"/>
<circle cx="685.63" cy="132.42" r="2.75" fill="#0000ff"/>
<circle cx="682.90" cy="132.21" r="2.75" fill="#0000ff"/>
<circle cx="680.33" cy="132.18" r="2.75" fill="#0000ff"/>
<circle cx="677.45" cy="130.97" r="2.75" fill="#0000ff"/>
<circle cx="675.04" cy="130.94" r="2.75" fill="#0000ff"/>
<circle cx="673.32" cy="130.66" r="2.75" fill="#0000ff"/>
<circle cx="670.76" cy="131.38" r="2.75" fill="#0000ff"/>
<circle cx="668.48" cy="131.02" r="2.75" fill="#0000ff"/>
<circle cx="663.92" cy="127.62" r="2.75" fill="#0000ff"/>
<circle cx="663.52" cy="125.37" r="2.75" fill="#0000ff"/>
<circle cx="662.31" cy="122.46" r="2.75" fill="#0000ff"/>
<circle cx="662.17" cy="119.82" r="2.75" fill="#0000ff"/>
<circle cx="661.31" cy="117.18" r="2.75" fill="#0000ff"/>
<circle cx="661.59" cy="115.46" r="2.75" fill="#0000ff"/>
<circle cx="659.95" cy="113.98" r="2.75" fill="#0000ff"/>
<circle cx="659.74" cy="113.38" r="2.75" fill="#0000ff"/>
<circle cx="660.12" cy="113.73" r="2.75" fill="#0000ff"/>
<circle cx="659.16" cy="114.26" r="2.75" fill="#0000ff"/>
<circle cx="658.50" cy="116.09" r="2.75" fill="#0000ff"/>
<circle cx="658.46" cy="118.98" r="2.75" fill="#0000ff"/>
<circle cx="657.84" cy="121.28" r="2.75" fill="#0000ff"/>
<circle cx="657.43" cy="123.89" r="2.75" fill="#0000ff"/>
<circle cx="656.31" cy="126.05" r="2.75" fill="#0000ff"/>
<circle cx="656.20" cy="129.17" r="2.75" fill="#0000ff"/>
<circle cx="656.05" cy="131.24" r="2.75" fill="#0000ff"/>
<circle cx="655.33" cy="134.05" r="2.75" fill="#0000ff"/>
<circle cx="648.96" cy="132.26" r="2.75" fill="#0000ff"/>
<circle cx="647.69" cy="130.22" r="2.75" fill="#0000ff"/>
<circle cx="647.20" cy="127.48" r="2.75" fill="#0000ff"/>
<circle cx="645.74" cy="125.73" r="2.75" fill="#0000ff"/>
<circle cx="645.46" cy="121.84" r="2.75" fill="#0000ff"/>
<circle cx="644.53" cy="120.94" r="2.75" fill="#0000ff"/>
<circle cx="644.04" cy="119.03" r="2.75" fill="#0000ff"/>
<circle cx="643.32" cy="118.39" r="2.75" fill="#0000ff"/>
<circle cx="643.51" cy="119.41" r="2.75" fill="#0000ff"/>
<circle cx="642.71" cy="120.34" r="2.75" fill="#0000ff"/>
<circle cx="642.13" cy="121.48" r="2.75" fill="#0000ff"/>
<circle cx="641.83" cy="123.71" r="2.75" fill="#0000ff"/>
<circle cx="642.04" cy="126.67" r="2.75" fill="#0000ff"/>
<circle cx="640.10" cy="129.75" r="2.75" fill="#0000ff"/>
<circle cx="638.76" cy="132.12" r="2.75" fill="#0000ff"/>
<circle cx="632.62" cy="131.49" r="2.75" fill="#0000ff"/>
<circle cx="631.78" cy="129.53" r="2.75" fill="#0000ff"/>
<circle cx="631.74" cy="126.75" r="2.75" fill="#0000ff"/>
<circle cx="630.47" cy="126.58" r="2.75" fill="#0000ff"/>
<circle cx="629.64" cy="125.62" r="2.75" fill="#0000ff"/>
<circle cx="629.68" cy="126.11" r="2.75" fill="#0000ff"/>
<circle cx="628.79" cy="127.45" r="2.75" fill="#0000ff"/>
<circle cx="627.05" cy="129.54" r="2.75" fill="#0000ff"/>
<circle cx="621.34" cy="128.45" r="2.75" fill="#0000ff"/>
<circle cx="621.34" cy="127.94" r="2.75" fill="#0000ff"/>
<circle cx="620.50" cy="128.59" r="2.75" fill="#0000ff"/>
<circle cx="618.33" cy="130.61" r="2.75" fill="#0000ff"/>
<circle cx="614.23" cy="132.39" r="2.75" fill="#0000ff"/>
<circle cx="612.12" cy="132.11" r="2.75" fill="#0000ff"/>
<circle cx="608.98" cy="132.13" r="2.75" fill="#0000ff"/>
<circle cx="606.07" cy="131.73" r="2.75" fill="#0000ff"/>
<circle cx="603.77" cy="131.48" r="2.75" fill="#0000ff"/>
<circle cx="601.19" cy="131.63" r="2.75" fill="#0000ff"/>
<circle cx="598.67" cy="131.69" r="2.75" fill="#0000ff"/>
<circle cx="596.11" cy="131.96" r="2.75" fill="#0000ff"/>
<circle cx="594.14" cy="131.94" r="2.75" fill="#0000ff"/>
<circle cx="590.89" cy="132.12" r="2.75" fill="#0000ff"/>
<circle cx="588.59" cy="132.70" r="2.75" fill="#0000ff"/>
<circle cx="585.77" cy="132.80" r="2.75" fill="#0000ff"/>
<circle cx="583.83" cy="132.80" r="2.75" fill="#0000ff"/>
<circle cx="581.06" cy="132.39" r="2.75" fill="#0000ff"/>
<circle cx="578.61" cy="132.73" r="2.75" fill="#0000ff"/>
<circle cx="575.99" cy="133.18" r="2.75" fill="#0000ff"/>
<circle cx="572.68" cy="133.13" r="2.75" fill="#0000ff"/>
<circle cx="570.76" cy="132.55" r="2.75" fill="#0000ff"/>
<circle cx="567.54" cy="133.16" r="2.75" fill="#0000ff"/>
<circle cx="564.76" cy="133.26" r="2.75" fill="#0000ff"/>
<circle cx="562.27" cy="133.16" r="2.75" fill="#0000ff"/>
<circle cx="559.55" cy="132.85" r="2.75" fill="#0000ff"/>
<circle cx="557.64" cy="132.56" r="2.75" fill="#0000ff"/>
<circle cx="554.45" cy="132.81" r="2.75" fill="#0000ff"/>
<circle cx="551.90" cy="132.36" r="2.75" fill="#0000ff"/>
<circle cx="549.17" cy="132.45" r="2.75" fill="#0000ff"/>
<circle cx="547.25" cy="132.89" r="2.75" fill="#0000ff"/>
<circle cx="544.61" cy="132.40" r="2.75" fill="#0000ff"/>
<circle cx="541.91" cy="132.33" r="2.75" fill="#0000ff"/>
<circle cx="539.08" cy="132.77" r="2.75" fill="#0000ff"/>
<circle cx="536.32" cy="132.96" r="2.75" fill="#0000ff"/>
<circle cx="533.90" cy="132.67" r="2.75" fill="#0000ff"/>
<circle cx="531.59" cy="132.22" r="2.75" fill="#0000ff"/>
<circle cx="529.09" cy="132.66" r="2.75" fill="#0000ff"/>
<circle cx="525.95" cy="132.79" r="2.75" fill="#0000ff"/>
<circle cx="523.23" cy="132.94" r="2.75" fill="#0000ff"/>
<circle cx="520.91" cy="132.35" r="2.75" fill="#0000ff"/>
<circle cx="518.47" cy="132.39" r="2.75" fill="#0000ff"/>
<circle cx="515.34" cy="132.64" r="2.75" fill="#0000ff"/>
<circle cx="512.62" cy="132.68" r="2.75" fill="#0000ff"/>
<circle cx="510.21" cy="132.50" r="2.75" fill="#0000ff"/>
<circle cx="508.26" cy="132.42" r="2.75" fill="#0000ff"/>
<circle cx="505.37" cy="132.15" r="2.75" fill="#0000ff"/>
<circle cx="502.17" cy="131.88" r="2.75" fill="#0000ff"/>
<circle cx="499.83" cy="132.38" r="2.75" fill="#0000ff"/>
<circle cx="499.77" cy="131.98" r="2.75" fill="#0000ff"/>
<circle cx="500.26" cy="132.90" r="2.75" fill="#0000ff"/>
<circle cx="495.17" cy="136.42" r="2.75" fill="#0000ff"/>
<circle cx="492.38" cy="135.88" r="2.75" fill="#0000ff"/>
<circle cx="490.08" cy="136.02" r="2.75" fill="#0000ff"/>
<circle cx="487.48" cy="136.18" r="2.75" fill="#0000ff"/>
<circle cx="485.08" cy="136.55" r="2.75" fill="#0000ff"/>
<circle cx="482.14" cy="136.63" r="2.75" fill="#0000ff"/>
<circle cx="479.78" cy="136.24" r="2.75" fill="#0000ff"/>
<circle cx="477.59" cy="136.39" r="2.75" fill="#0000ff"/>
<circle cx="474.28" cy="136.30" r="2.75" fill="#0000ff"/>
<circle cx="472.12" cy="137.05" r="2.75" fill="#0000ff"/>
<circle cx="469.60" cy="136.66" r="2.75" fill="#0000ff"/>
<circle cx="466.53" cy="136.31" r="2.75" fill="#0000ff"/>
<circle cx="464.27" cy="136.81" r="2.75" fill="#0000ff"/>
<circle cx="461.40" cy="136.88" r="2.75" fill="#0000ff"/>
<circle cx="458.89" cy="137.14" r="2.75" fill="#0000ff"/>
<circle cx="455.75" cy="132.02" r="2.75" fill="#0000ff"/>
<circle cx="456.40" cy="131.23" r="2.75" fill="#0000ff"/>
<circle cx="455.19" cy="132.17" r="2.75" fill="#0000ff"/>
<circle cx="452.32" cy="131.85" r="2.75" fill="#0000ff"/>
<circle cx="450.20" cy="131.81" r="2.75" fill="#0000ff"/>
<circle cx="447.40" cy="132.65" r="2.75" fill="#0000ff"/>
<circle cx="444.43" cy="131.98" r="2.75" fill="#0000ff"/>
<circle cx="442.24" cy="132.26" r="2.75" fill="#0000ff"/>
<circle cx="439.67" cy="132.53" r="2.75" fill="#0000ff"/>
<circle cx="436.65" cy="132.08" r="2.75" fill="#0000ff"/>
<circle cx="434.16" cy="131.84" r="2.75" fill="#0000ff"/>
<circle cx="432.09" cy="132.50" r="2.75" fill="#0000ff"/>
<circle cx="428.00" cy="130.93" r="2.75" fill="#0000ff"/>
<circle cx="426.16" cy="130.37" r="2.75" fill="#0000ff"/>
<circle cx="425.82" cy="130.37" r="2.75" fill="#0000ff"/>
<circle cx="424.73" cy="130.44" r="2.75" fill="#0000ff"/>
<ellipse cx="629.5" cy="139.7" rx="1.4" ry="2.8" fill="#fff"/>
<ellipse cx="643.7" cy="133.3" rx="1.3" ry="5.6" fill="#fff"/>
<line x1="472.0" y1="140.3" x2="605.0" y2="140.3" stroke="#fff" stroke-opacity="0.45" stroke-width="1" stroke-dasharray="3 1.5 5 2 2 1"/>
<polygon fill="#fff" points="562.5,140.2 566.0,136.8 570.5,140.2"/>
<polygon fill="#fff" points="670.0,140.0 688.0,139.8 697.0,138.3 697.0,141.8 688.0,141.2 670.0,141.0"/>
<polyline fill="none" stroke="#0000ff" stroke-width="6.00" stroke-linecap="round" stroke-linejoin="round" points="424.2,113.5 425.2,117.5 427.0,122.5 429.0,127.0 431.0,130.0"/>
<path fill="#0000ff" fill-rule="nonzero" d="M371.44,128.55 L375.10,128.55 L374.55,100.13 L374.04,94.18 L373.22,93.46 L372.28,94.27 L371.35,100.19 L371.44,128.55Z "/>
<circle cx="370.63" cy="128.84" r="2.75" fill="#0000ff"/>
<circle cx="371.37" cy="128.12" r="2.75" fill="#0000ff"/>
<circle cx="374.11" cy="128.41" r="2.75" fill="#0000ff"/>
<circle cx="375.28" cy="128.78" r="2.75" fill="#0000ff"/>
<circle cx="374.98" cy="128.50" r="2.75" fill="#0000ff"/>
<circle cx="374.73" cy="127.62" r="2.75" fill="#0000ff"/>
<circle cx="374.75" cy="124.75" r="2.75" fill="#0000ff"/>
<circle cx="374.80" cy="122.85" r="2.75" fill="#0000ff"/>
<circle cx="374.41" cy="120.33" r="2.75" fill="#0000ff"/>
<circle cx="374.20" cy="117.39" r="2.75" fill="#0000ff"/>
<circle cx="374.33" cy="115.32" r="2.75" fill="#0000ff"/>
<circle cx="374.85" cy="112.87" r="2.75" fill="#0000ff"/>
<circle cx="374.31" cy="110.52" r="2.75" fill="#0000ff"/>
<circle cx="374.26" cy="107.56" r="2.75" fill="#0000ff"/>
<circle cx="374.68" cy="105.42" r="2.75" fill="#0000ff"/>
<circle cx="374.46" cy="102.99" r="2.75" fill="#0000ff"/>
<circle cx="374.64" cy="100.38" r="2.75" fill="#0000ff"/>
<circle cx="374.35" cy="98.30" r="2.75" fill="#0000ff"/>
<circle cx="374.16" cy="95.65" r="2.75" fill="#0000ff"/>
<circle cx="374.12" cy="94.29" r="2.75" fill="#0000ff"/>
<circle cx="373.07" cy="93.62" r="2.75" fill="#0000ff"/>
<circle cx="373.25" cy="93.02" r="2.75" fill="#0000ff"/>
<circle cx="373.01" cy="94.04" r="2.75" fill="#0000ff"/>
<circle cx="372.14" cy="94.38" r="2.75" fill="#0000ff"/>
<circle cx="372.48" cy="97.00" r="2.75" fill="#0000ff"/>
<circle cx="371.47" cy="99.17" r="2.75" fill="#0000ff"/>
<circle cx="371.29" cy="101.71" r="2.75" fill="#0000ff"/>
<circle cx="371.77" cy="104.16" r="2.75" fill="#0000ff"/>
<circle cx="371.86" cy="106.11" r="2.75" fill="#0000ff"/>
<circle cx="371.75" cy="108.80" r="2.75" fill="#0000ff"/>
<circle cx="371.94" cy="111.62" r="2.75" fill="#0000ff"/>
<circle cx="372.01" cy="113.47" r="2.75" fill="#0000ff"/>
<circle cx="372.00" cy="116.60" r="2.75" fill="#0000ff"/>
<circle cx="372.07" cy="118.41" r="2.75" fill="#0000ff"/>
<circle cx="371.48" cy="120.87" r="2.75" fill="#0000ff"/>
<circle cx="371.35" cy="123.91" r="2.75" fill="#0000ff"/>
<circle cx="371.98" cy="126.19" r="2.75" fill="#0000ff"/>
<circle cx="372.00" cy="128.36" r="2.75" fill="#0000ff"/>
<path fill="#0000ff" fill-rule="nonzero" d="M384.50,123.55 L384.99,123.55 L385.10,123.02 L385.16,122.79 L385.24,122.56 L385.34,122.34 L385.46,122.14 L385.61,121.94 L385.77,121.77 L385.95,121.61 L386.14,121.46 L386.35,121.34 L386.56,121.24 L386.79,121.16 L387.02,121.10 L387.26,121.06 L387.50,121.05 L390.85,121.05 L390.85,104.23 L389.59,97.45 L389.56,97.16 L388.97,88.37 L388.00,84.34 L387.33,83.76 L386.69,84.33 L385.68,88.39 L385.05,97.11 L384.50,123.55Z "/>
<circle cx="383.68" cy="123.65" r="2.75" fill="#0000ff"/>
<circle cx="384.45" cy="123.48" r="2.75" fill="#0000ff"/>
<circle cx="385.11" cy="123.57" r="2.75" fill="#0000ff"/>
<circle cx="384.75" cy="122.53" r="2.75" fill="#0000ff"/>
<circle cx="389.51" cy="120.58" r="2.75" fill="#0000ff"/>
<circle cx="390.94" cy="121.02" r="2.75" fill="#0000ff"/>
<circle cx="390.73" cy="121.29" r="2.75" fill="#0000ff"/>
<circle cx="390.55" cy="120.05" r="2.75" fill="#0000ff"/>
<circle cx="390.64" cy="116.96" r="2.75" fill="#0000ff"/>
<circle cx="390.48" cy="114.84" r="2.75" fill="#0000ff"/>
<circle cx="390.77" cy="112.33" r="2.75" fill="#0000ff"/>
<circle cx="390.71" cy="110.05" r="2.75" fill="#0000ff"/>
<circle cx="390.32" cy="107.87" r="2.75" fill="#0000ff"/>
<circle cx="390.22" cy="105.39" r="2.75" fill="#0000ff"/>
<circle cx="390.09" cy="102.82" r="2.75" fill="#0000ff"/>
<circle cx="389.67" cy="101.03" r="2.75" fill="#0000ff"/>
<circle cx="389.85" cy="98.03" r="2.75" fill="#0000ff"/>
<circle cx="389.15" cy="95.68" r="2.75" fill="#0000ff"/>
<circle cx="389.23" cy="93.00" r="2.75" fill="#0000ff"/>
<circle cx="388.83" cy="90.69" r="2.75" fill="#0000ff"/>
<circle cx="388.94" cy="88.22" r="2.75" fill="#0000ff"/>
<circle cx="388.56" cy="86.29" r="2.75" fill="#0000ff"/>
<circle cx="387.50" cy="84.66" r="2.75" fill="#0000ff"/>
<circle cx="387.33" cy="83.85" r="2.75" fill="#0000ff"/>
<circle cx="387.36" cy="83.28" r="2.75" fill="#0000ff"/>
<circle cx="387.19" cy="84.65" r="2.75" fill="#0000ff"/>
<circle cx="386.98" cy="85.43" r="2.75" fill="#0000ff"/>
<circle cx="386.05" cy="87.62" r="2.75" fill="#0000ff"/>
<circle cx="385.80" cy="89.94" r="2.75" fill="#0000ff"/>
<circle cx="385.38" cy="92.38" r="2.75" fill="#0000ff"/>
<circle cx="385.16" cy="94.26" r="2.75" fill="#0000ff"/>
<circle cx="385.17" cy="97.25" r="2.75" fill="#0000ff"/>
<circle cx="385.31" cy="99.13" r="2.75" fill="#0000ff"/>
<circle cx="385.56" cy="101.45" r="2.75" fill="#0000ff"/>
<circle cx="385.17" cy="104.13" r="2.75" fill="#0000ff"/>
<circle cx="385.36" cy="106.75" r="2.75" fill="#0000ff"/>
<circle cx="385.22" cy="108.86" r="2.75" fill="#0000ff"/>
<circle cx="384.91" cy="111.15" r="2.75" fill="#0000ff"/>
<circle cx="385.28" cy="113.99" r="2.75" fill="#0000ff"/>
<circle cx="385.14" cy="116.04" r="2.75" fill="#0000ff"/>
<circle cx="384.85" cy="118.96" r="2.75" fill="#0000ff"/>
<circle cx="384.91" cy="120.88" r="2.75" fill="#0000ff"/>
<circle cx="384.78" cy="123.23" r="2.75" fill="#0000ff"/>
<polygon fill="#fff" points="386.8,106.5 387.9,106.5 387.9,121.5 386.8,123.5"/>
<path fill="#0000ff" fill-rule="nonzero" d="M400.35,116.42 L401.85,117.10 L404.25,114.92 L404.15,90.11 L403.34,80.59 L402.34,78.21 L401.30,80.62 L400.35,90.12 L400.35,116.42Z "/>
<circle cx="400.00" cy="116.26" r="2.75" fill="#0000ff"/>
<circle cx="401.09" cy="116.66" r="2.75" fill="#0000ff"/>
<circle cx="402.15" cy="116.99" r="2.75" fill="#0000ff"/>
<circle cx="401.99" cy="116.11" r="2.75" fill="#0000ff"/>
<circle cx="403.81" cy="114.81" r="2.75" fill="#0000ff"/>
<circle cx="403.67" cy="114.50" r="2.75" fill="#0000ff"/>
<circle cx="403.69" cy="112.59" r="2.75" fill="#0000ff"/>
<circle cx="404.11" cy="109.46" r="2.75" fill="#0000ff"/>
<circle cx="404.29" cy="107.03" r="2.75" fill="#0000ff"/>
<circle cx="403.81" cy="105.30" r="2.75" fill="#0000ff"/>
<circle cx="404.13" cy="102.67" r="2.75" fill="#0000ff"/>
<circle cx="403.84" cy="99.81" r="2.75" fill="#0000ff"/>
<circle cx="403.99" cy="97.31" r="2.75" fill="#0000ff"/>
<circle cx="403.64" cy="95.11" r="2.75" fill="#0000ff"/>
<circle cx="403.49" cy="92.68" r="2.75" fill="#0000ff"/>
<circle cx="404.08" cy="90.49" r="2.75" fill="#0000ff"/>
<circle cx="403.68" cy="88.24" r="2.75" fill="#0000ff"/>
<circle cx="403.45" cy="85.43" r="2.75" fill="#0000ff"/>
<circle cx="403.35" cy="83.22" r="2.75" fill="#0000ff"/>
<circle cx="403.26" cy="81.20" r="2.75" fill="#0000ff"/>
<circle cx="402.47" cy="79.47" r="2.75" fill="#0000ff"/>
<circle cx="402.80" cy="78.49" r="2.75" fill="#0000ff"/>
<circle cx="402.03" cy="78.34" r="2.75" fill="#0000ff"/>
<circle cx="402.52" cy="79.08" r="2.75" fill="#0000ff"/>
<circle cx="401.92" cy="80.61" r="2.75" fill="#0000ff"/>
<circle cx="401.62" cy="81.97" r="2.75" fill="#0000ff"/>
<circle cx="401.20" cy="84.13" r="2.75" fill="#0000ff"/>
<circle cx="401.10" cy="86.38" r="2.75" fill="#0000ff"/>
<circle cx="400.69" cy="89.34" r="2.75" fill="#0000ff"/>
<circle cx="400.82" cy="91.37" r="2.75" fill="#0000ff"/>
<circle cx="400.45" cy="93.64" r="2.75" fill="#0000ff"/>
<circle cx="400.61" cy="96.22" r="2.75" fill="#0000ff"/>
<circle cx="400.58" cy="98.70" r="2.75" fill="#0000ff"/>
<circle cx="400.99" cy="100.73" r="2.75" fill="#0000ff"/>
<circle cx="400.77" cy="103.64" r="2.75" fill="#0000ff"/>
<circle cx="400.56" cy="105.84" r="2.75" fill="#0000ff"/>
<circle cx="401.03" cy="107.91" r="2.75" fill="#0000ff"/>
<circle cx="400.68" cy="110.44" r="2.75" fill="#0000ff"/>
<circle cx="400.88" cy="113.49" r="2.75" fill="#0000ff"/>
<circle cx="400.67" cy="115.25" r="2.75" fill="#0000ff"/>
<circle cx="404.5" cy="122.4" r="2.75" fill="#0000ff"/>
<circle cx="399.5" cy="123.0" r="2.75" fill="#0000ff"/>
<circle cx="395.8" cy="125.5" r="2.75" fill="#0000ff"/>
<circle cx="390.8" cy="126.8" r="2.75" fill="#0000ff"/>
<circle cx="403.5" cy="125.0" r="2.75" fill="#0000ff"/>
<circle cx="376.5" cy="144.0" r="2.75" fill="#0000ff"/>
<circle cx="376.5" cy="149.0" r="2.75" fill="#0000ff"/>
<circle cx="376.5" cy="154.0" r="2.75" fill="#0000ff"/>
<circle cx="376.0" cy="157.5" r="2.75" fill="#0000ff"/>
<circle cx="376.0" cy="163.0" r="2.75" fill="#0000ff"/>
<circle cx="376.5" cy="167.0" r="2.75" fill="#0000ff"/>
<circle cx="377.0" cy="173.0" r="2.75" fill="#0000ff"/>
<circle cx="377.5" cy="177.0" r="2.75" fill="#0000ff"/>
<circle cx="377.5" cy="182.0" r="2.75" fill="#0000ff"/>
<circle cx="377.0" cy="186.0" r="2.75" fill="#0000ff"/>
<circle cx="377.0" cy="191.0" r="2.75" fill="#0000ff"/>
<circle cx="379.0" cy="196.0" r="2.75" fill="#0000ff"/>
<circle cx="378.0" cy="203.0" r="2.75" fill="#0000ff"/>
<circle cx="378.0" cy="206.0" r="2.75" fill="#0000ff"/>
<circle cx="379.0" cy="209.0" r="2.75" fill="#0000ff"/>
<circle cx="379.5" cy="215.0" r="2.75" fill="#0000ff"/>
<circle cx="380.0" cy="220.0" r="2.75" fill="#0000ff"/>
<circle cx="380.0" cy="224.0" r="2.75" fill="#0000ff"/>
<circle cx="383.0" cy="145.0" r="2.75" fill="#0000ff"/>
<circle cx="382.5" cy="152.0" r="2.75" fill="#0000ff"/>
<circle cx="382.5" cy="156.0" r="2.75" fill="#0000ff"/>
<circle cx="382.0" cy="159.0" r="2.75" fill="#0000ff"/>
<circle cx="382.5" cy="167.0" r="2.75" fill="#0000ff"/>
<circle cx="382.5" cy="179.0" r="2.75" fill="#0000ff"/>
<circle cx="382.0" cy="180.5" r="2.75" fill="#0000ff"/>
<circle cx="381.5" cy="185.5" r="2.75" fill="#0000ff"/>
<circle cx="381.5" cy="192.0" r="2.75" fill="#0000ff"/>
<circle cx="381.5" cy="197.5" r="2.75" fill="#0000ff"/>
<circle cx="381.0" cy="201.0" r="2.75" fill="#0000ff"/>
<circle cx="381.5" cy="210.0" r="2.75" fill="#0000ff"/>
<circle cx="381.0" cy="213.0" r="2.75" fill="#0000ff"/>
<circle cx="380.0" cy="217.0" r="2.75" fill="#0000ff"/>
<circle cx="392.5" cy="143.0" r="2.75" fill="#0000ff"/>
<circle cx="392.5" cy="148.0" r="2.75" fill="#0000ff"/>
<circle cx="392.5" cy="153.0" r="2.75" fill="#0000ff"/>
<circle cx="392.5" cy="158.0" r="2.75" fill="#0000ff"/>
<circle cx="393.0" cy="162.0" r="2.75" fill="#0000ff"/>
<circle cx="393.0" cy="166.0" r="2.75" fill="#0000ff"/>
<circle cx="393.5" cy="170.0" r="2.75" fill="#0000ff"/>
<circle cx="393.5" cy="175.0" r="2.75" fill="#0000ff"/>
<circle cx="393.5" cy="181.0" r="2.75" fill="#0000ff"/>
<circle cx="393.5" cy="186.0" r="2.75" fill="#0000ff"/>
<circle cx="393.5" cy="190.0" r="2.75" fill="#0000ff"/>
<circle cx="393.5" cy="195.0" r="2.75" fill="#0000ff"/>
<circle cx="393.5" cy="200.0" r="2.75" fill="#0000ff"/>
<circle cx="393.5" cy="205.0" r="2.75" fill="#0000ff"/>
<circle cx="394.0" cy="210.0" r="2.75" fill="#0000ff"/>
<circle cx="394.0" cy="215.0" r="2.75" fill="#0000ff"/>
<circle cx="394.0" cy="220.0" r="2.75" fill="#0000ff"/>
<circle cx="395.0" cy="224.0" r="2.75" fill="#0000ff"/>
<circle cx="399.5" cy="139.0" r="2.75" fill="#0000ff"/>
<circle cx="399.5" cy="145.0" r="2.75" fill="#0000ff"/>
<circle cx="399.0" cy="150.0" r="2.75" fill="#0000ff"/>
<circle cx="398.5" cy="156.0" r="2.75" fill="#0000ff"/>
<circle cx="398.0" cy="160.0" r="2.75" fill="#0000ff"/>
<circle cx="398.0" cy="166.0" r="2.75" fill="#0000ff"/>
<circle cx="398.5" cy="172.0" r="2.75" fill="#0000ff"/>
<circle cx="398.5" cy="179.0" r="2.75" fill="#0000ff"/>
<circle cx="398.0" cy="184.0" r="2.75" fill="#0000ff"/>
<circle cx="398.0" cy="189.0" r="2.75" fill="#0000ff"/>
<circle cx="397.5" cy="194.0" r="2.75" fill="#0000ff"/>
<circle cx="397.5" cy="199.0" r="2.75" fill="#0000ff"/>
<circle cx="397.5" cy="204.0" r="2.75" fill="#0000ff"/>
<circle cx="397.0" cy="209.0" r="2.75" fill="#0000ff"/>
<circle cx="397.5" cy="214.0" r="2.75" fill="#0000ff"/>
<circle cx="397.0" cy="219.0" r="2.75" fill="#0000ff"/>
<circle cx="396.0" cy="223.0" r="2.75" fill="#0000ff"/>
<circle cx="405.3" cy="132.0" r="2.75" fill="#0000ff"/>
<circle cx="405.5" cy="136.0" r="2.75" fill="#0000ff"/>
<circle cx="405.7" cy="140.0" r="2.75" fill="#0000ff"/>
<circle cx="406.0" cy="144.0" r="2.75" fill="#0000ff"/>
<circle cx="405.5" cy="148.0" r="2.75" fill="#0000ff"/>
<circle cx="406.5" cy="151.0" r="2.75" fill="#0000ff"/>
<circle cx="406.4" cy="155.0" r="2.75" fill="#0000ff"/>
<circle cx="406.8" cy="159.0" r="2.75" fill="#0000ff"/>
<circle cx="406.5" cy="162.5" r="2.75" fill="#0000ff"/>
<circle cx="407.0" cy="166.0" r="2.75" fill="#0000ff"/>
<circle cx="408.0" cy="169.0" r="2.75" fill="#0000ff"/>
<circle cx="410.3" cy="170.4" r="2.75" fill="#0000ff"/>
<circle cx="408.0" cy="147.0" r="2.75" fill="#0000ff"/>
<circle cx="408.5" cy="158.0" r="2.75" fill="#0000ff"/>
<circle cx="407.8" cy="138.0" r="2.75" fill="#0000ff"/>
<circle cx="411.4" cy="136.3" r="2.75" fill="#0000ff"/>
<circle cx="412.5" cy="142.9" r="2.75" fill="#0000ff"/>
<circle cx="413.0" cy="154.4" r="2.75" fill="#0000ff"/>
<circle cx="413.6" cy="169.3" r="2.75" fill="#0000ff"/>
<circle cx="408.0" cy="189.5" r="2.75" fill="#0000ff"/>
<circle cx="414.5" cy="186.5" r="2.75" fill="#0000ff"/>
<circle cx="421.5" cy="183.5" r="2.75" fill="#0000ff"/>
<circle cx="423.0" cy="194.5" r="2.75" fill="#0000ff"/>
<circle cx="408.0" cy="209.5" r="2.75" fill="#0000ff"/>
<circle cx="414.5" cy="205.5" r="2.75" fill="#0000ff"/>
<circle cx="421.5" cy="203.5" r="2.75" fill="#0000ff"/>
<circle cx="422.0" cy="219.0" r="2.75" fill="#0000ff"/>
<circle cx="420.0" cy="223.0" r="2.75" fill="#0000ff"/>
<circle cx="415.5" cy="226.0" r="2.75" fill="#0000ff"/>
<circle cx="407.0" cy="232.0" r="2.75" fill="#0000ff"/>
<circle cx="407.0" cy="254.0" r="2.75" fill="#0000ff"/>
<circle cx="422.5" cy="145.0" r="2.75" fill="#0000ff"/>
<circle cx="423.0" cy="149.0" r="2.75" fill="#0000ff"/>
<circle cx="422.5" cy="163.0" r="2.75" fill="#0000ff"/>
<circle cx="423.0" cy="170.0" r="2.75" fill="#0000ff"/>
<circle cx="398.0" cy="242.0" r="2.75" fill="#0000ff"/>
<circle cx="420.0" cy="241.0" r="2.75" fill="#0000ff"/>
<circle cx="422.0" cy="246.0" r="2.75" fill="#0000ff"/>
<circle cx="419.0" cy="258.0" r="2.75" fill="#0000ff"/>
<circle cx="407.4" cy="254.0" r="2.75" fill="#0000ff"/>
<circle cx="419.4" cy="258.4" r="2.75" fill="#0000ff"/>
<circle cx="397.4" cy="270.4" r="2.75" fill="#0000ff"/>
<circle cx="399.4" cy="269.4" r="2.75" fill="#0000ff"/>
<circle cx="416.0" cy="270.0" r="2.75" fill="#0000ff"/>
<circle cx="419.0" cy="272.0" r="2.75" fill="#0000ff"/>
<circle cx="421.4" cy="273.4" r="2.75" fill="#0000ff"/>
<circle cx="406.4" cy="277.4" r="2.75" fill="#0000ff"/>
<circle cx="418.0" cy="282.4" r="2.75" fill="#0000ff"/>
<circle cx="416.6" cy="284.4" r="2.75" fill="#0000ff"/>
<circle cx="418.0" cy="290.0" r="2.75" fill="#0000ff"/>
<circle cx="399.4" cy="296.0" r="2.75" fill="#0000ff"/>
<circle cx="398.4" cy="300.4" r="2.75" fill="#0000ff"/>
<circle cx="406.4" cy="301.4" r="2.75" fill="#0000ff"/>
<circle cx="421.4" cy="302.4" r="2.75" fill="#0000ff"/>
<circle cx="400.4" cy="323.0" r="2.75" fill="#0000ff"/>
<circle cx="405.4" cy="324.4" r="2.75" fill="#0000ff"/>
<circle cx="398.4" cy="327.4" r="2.75" fill="#0000ff"/>
<circle cx="420.4" cy="328.4" r="2.75" fill="#0000ff"/>
<circle cx="404.4" cy="345.4" r="2.75" fill="#0000ff"/>
<circle cx="400.4" cy="349.0" r="2.75" fill="#0000ff"/>
<circle cx="399.4" cy="354.0" r="2.75" fill="#0000ff"/>
<circle cx="420.4" cy="353.4" r="2.75" fill="#0000ff"/>
<circle cx="404.4" cy="368.4" r="2.75" fill="#0000ff"/>
<circle cx="400.4" cy="378.0" r="2.75" fill="#0000ff"/>
<circle cx="419.4" cy="375.4" r="2.75" fill="#0000ff"/>
<circle cx="403.4" cy="386.4" r="2.75" fill="#0000ff"/>
<circle cx="402.4" cy="394.0" r="2.75" fill="#0000ff"/>
<circle cx="400.0" cy="398.4" r="2.75" fill="#0000ff"/>
<circle cx="418.6" cy="394.2" r="2.75" fill="#0000ff"/>
<circle cx="403.0" cy="404.4" r="2.75" fill="#0000ff"/>
<polyline fill="none" stroke="#0000ff" stroke-width="5.80" stroke-linecap="round" stroke-linejoin="round" points="411.4,389.5 408.4,396.6 406.0,403.8 404.2,409.8 403.0,414.6 402.4,420.6 402.4,427.5"/>
<polyline fill="none" stroke="#0000ff" stroke-width="8.20" stroke-linecap="round" stroke-linejoin="round" points="403.6,410.0 402.8,420.0 402.8,426.0"/>
<polyline fill="none" stroke="#0000ff" stroke-width="5.60" stroke-linecap="round" stroke-linejoin="round" points="411.4,389.5 414.4,395.4 415.6,402.6 417.5,408.0 417.0,412.2 417.4,416.5"/>
<circle cx="419.2" cy="408.6" r="2.75" fill="#0000ff"/>
<circle cx="409.0" cy="390.5" r="2.75" fill="#0000ff"/>
<circle cx="413.5" cy="390.5" r="2.75" fill="#0000ff"/>
</g>
<rect x="100.5" y="60.5" width="620" height="385" fill="none" stroke="#000" stroke-width="1.11"/>
<line x1="128.5" y1="445" x2="128.5" y2="450.5" stroke="#000" stroke-width="1.11"/>
<text x="113.08 123.51 132.15 136.75" y="466" style="font-size:14.6px">−0.6</text>
<line x1="222.5" y1="445" x2="222.5" y2="450.5" stroke="#000" stroke-width="1.11"/>
<text x="207.08 217.51 226.15 230.75" y="466" style="font-size:14.6px">−0.4</text>
<line x1="316.5" y1="445" x2="316.5" y2="450.5" stroke="#000" stroke-width="1.11"/>
<text x="301.08 311.51 320.15 324.56" y="466" style="font-size:14.6px">−0.2</text>
<line x1="410.5" y1="445" x2="410.5" y2="450.5" stroke="#000" stroke-width="1.11"/>
<text x="400.44 409.08 413.68" y="466" style="font-size:14.6px">0.0</text>
<line x1="504.5" y1="445" x2="504.5" y2="450.5" stroke="#000" stroke-width="1.11"/>
<text x="494.44 503.08 507.49" y="466" style="font-size:14.6px">0.2</text>
<line x1="598.5" y1="445" x2="598.5" y2="450.5" stroke="#000" stroke-width="1.11"/>
<text x="588.44 597.08 601.68" y="466" style="font-size:14.6px">0.4</text>
<line x1="692.5" y1="445" x2="692.5" y2="450.5" stroke="#000" stroke-width="1.11"/>
<text x="682.44 691.08 695.68" y="466" style="font-size:14.6px">0.6</text>
<line x1="95.5" y1="67.5" x2="100" y2="67.5" stroke="#000" stroke-width="1.11"/>
<text x="60.75 69.47 74.07 82.84" y="73" style="font-size:14.6px">1.05</text>
<line x1="95.5" y1="144.5" x2="100" y2="144.5" stroke="#000" stroke-width="1.11"/>
<text x="60.75 69.47 74.07 82.89" y="149" style="font-size:14.6px">1.00</text>
<line x1="95.5" y1="221.5" x2="100" y2="221.5" stroke="#000" stroke-width="1.11"/>
<text x="60.44 69.08 73.63 82.45" y="226" style="font-size:14.6px">0.95</text>
<line x1="95.5" y1="297.5" x2="100" y2="297.5" stroke="#000" stroke-width="1.11"/>
<text x="60.44 69.08 73.63 82.51" y="303" style="font-size:14.6px">0.90</text>
<line x1="95.5" y1="374.5" x2="100" y2="374.5" stroke="#000" stroke-width="1.11"/>
<text x="60.44 69.08 73.68 82.45" y="379" style="font-size:14.6px">0.85</text>
<text x="249.75 260.21 264.45 267.45 282.39 292.87 303.54 314.09 324.70 335.24 345.87 356.21 366.91 377.58 387.80 390.80 398.82 409.15 419.93 426.32 430.77 441.03 444.03 456.88 467.52 477.93 483.36 493.99 504.50 515.05 518.05 530.90 540.74 551.87 561.24" y="52" style="font-size:17.66px">TIC 0167673218, period 17.9651 days</text>
<text x="389.19 398.35 406.47 415.37 422.77" y="485" style="font-size:14.6px">Phase</text>
<text transform="translate(50,400) rotate(-90)" x="74.56 85.21 94.20 99.68 112.15 121.29 125.15 128.75 136.21 144.77 147.77 157.27 166.19 176.27 179.27 191.47 196.07 199.93 208.84" y="0" style="font-size:14.6px">Normalized PDC flux</text>
</svg>
</body></html>
